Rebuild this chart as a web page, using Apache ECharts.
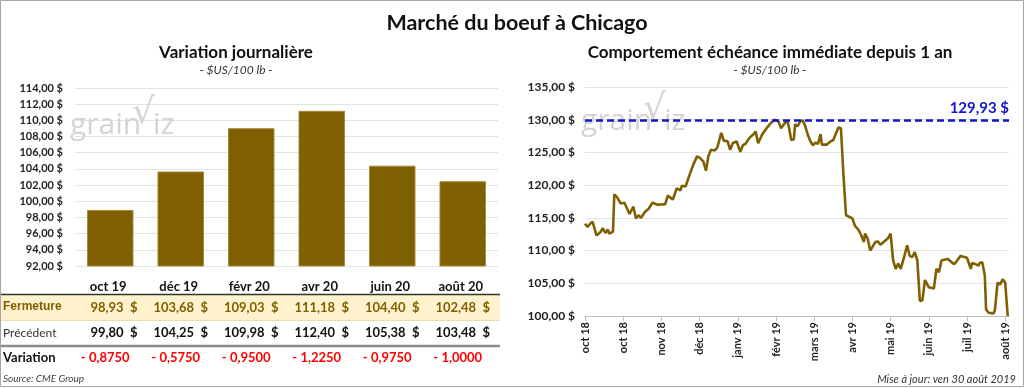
<!DOCTYPE html>
<html><head><meta charset="utf-8">
<script src="https://cdn.jsdelivr.net/npm/echarts@6/dist/echarts.min.js"></script>
<style>html,body{margin:0;padding:0;background:#fff}#c{width:1024px;height:388px}</style>
</head><body><div id="c"></div>
<script>
const barCategories = ['oct 19','déc 19','févr 20','avr 20','juin 20','août 20'];
const closeValues = [98.93,103.68,109.03,111.18,104.40,102.48];
const prevValues = [99.80,104.25,109.98,112.40,105.38,103.48];
const changeValues = [-0.8750,-0.5750,-0.9500,-1.2250,-0.9750,-1.0000];
const lineTickLabels = ['oct 18','oct 18','nov 18','déc 18','janv 19','févr 19','mars 19','avr 19','mai 19','juin 19','juil 19','août 19'];
// days since 1 Oct 2018
const lineDays = [0,2,4,6,9,12,14,16,18,19,22,23,25,28,31,35,38,40,42,44,47,50,53,57,63,65,69,72,75,76,79,82,85,88,90,93,95,97,99,102,104,107,109,112,114,116,119,122,124,126,128,130,132,134,136,139,143,146,149,152,154,157,159,160,162,164,165,167,169,171,173,175,177,179,181,183,185,186,187,190,193,195,196,199,201,202,203,205,208,210,212,215,217,219,220,222,224,225,228,230,232,235,238,240,242,244,246,248,251,253,255,257,259,261,263,265,267,270,274,276,278,280,282,285,288,290,292,295,298,300,303,304,307,309,310,312,314,315,317,321,322,324,326,328,330,331,332];
const linePrices = [114.1,113.6,114.1,114.4,112.3,112.8,113.4,112.7,113.2,112.6,112.9,118.6,118.2,117.2,117.3,115.6,116.7,114.9,115.4,115.0,115.9,116.4,117.3,117.0,117.1,118.4,117.8,119.5,119.2,119.9,119.8,121.5,123.1,124.4,124.2,123.6,122.2,124.5,125.4,125.3,125.8,128.0,126.8,126.7,125.4,126.4,126.7,125.1,126.1,126.3,126.9,127.4,127.7,128.2,126.4,127.7,128.8,129.5,130.0,129.7,128.7,129.5,129.8,129.0,126.9,127.0,129.3,129.0,129.75,129.9,129.0,127.7,126.7,126.1,126.5,126.3,127.8,126.2,126.3,126.2,126.7,126.9,126.7,128.8,128.7,128.6,121.5,115.4,115.1,114.9,113.8,113.1,112.3,111.3,112.6,111.8,110.0,109.8,111.3,111.4,110.9,111.4,111.9,112.6,108.5,107.2,108.0,107.2,109.3,110.8,109.2,109.0,109.75,108.5,102.3,102.4,105.5,104.4,104.2,107.2,106.7,108.5,108.6,108.7,108.2,107.9,108.4,109.2,109.0,108.9,107.2,108.1,107.9,107.7,108.1,108.2,106.2,101.0,100.5,100.4,101.0,105.1,104.8,105.6,105.1,104.8,100.0];
const yearHigh = 129.93;

const FONT = 'Lato, "Open Sans", sans-serif';
const BROWN = '#7f6000';
const fmt$ = v => v.toFixed(2).replace('.', ',') + ' $';
const fmtChg = v => (v < 0 ? '- ' : '+ ') + Math.abs(v).toFixed(4).replace('.', ',');

const chart = echarts.init(document.getElementById('c'), null, {renderer: 'canvas'});
const option = {
  backgroundColor: '#fff',
  animation: false,
  textStyle: {fontFamily: FONT},
  title: [
    {text: 'Marché du boeuf à Chicago', left: 512, top: 7, textAlign: 'center',
     textStyle: {fontSize: 21.5, fontWeight: 'bold', color: '#111', fontFamily: FONT}},
    {text: 'Variation journalière', subtext: '- $US/100 lb -', left: 231, top: 39, textAlign: 'center', itemGap: 3,
     textStyle: {fontSize: 17, fontWeight: 'bold', color: '#111', fontFamily: FONT},
     subtextStyle: {fontSize: 12, fontStyle: 'italic', color: '#333', fontFamily: FONT}},
    {text: 'Comportement échéance immédiate depuis 1 an', subtext: '- $US/100 lb -', left: 765, top: 39, textAlign: 'center', itemGap: 3,
     textStyle: {fontSize: 17, fontWeight: 'bold', color: '#111', fontFamily: FONT},
     subtextStyle: {fontSize: 12, fontStyle: 'italic', color: '#333', fontFamily: FONT}}
  ],
  grid: [
    {left: 75, width: 423, top: 88, height: 178},
    {left: 585, width: 424, top: 87, height: 229}
  ],
  xAxis: [
    {gridIndex: 0, type: 'category', data: barCategories, axisLine: {show: false}, axisTick: {show: false}, axisLabel: {show: false}},
    {gridIndex: 1, type: 'value', min: 0, max: 333, interval: 30,
     splitLine: {show: false},
     axisLine: {show: true, lineStyle: {color: '#bfbfbf'}},
     axisTick: {show: true, length: 5, lineStyle: {color: '#bfbfbf'}},
     axisLabel: {rotate: 90, fontSize: 11, fontWeight: 'bold', color: '#222', fontFamily: FONT, margin: 6,
       showMaxLabel: false,
       formatter: v => (v % 30 === 0 ? (lineTickLabels[v / 30] || '') : '')}}
  ],
  yAxis: [
    {gridIndex: 0, type: 'value', min: 92, max: 114, interval: 2,
     splitLine: {lineStyle: {color: '#e3e3e3', width: 1}},
     axisLine: {show: false}, axisTick: {show: false},
     axisLabel: {fontSize: 11, fontWeight: 'bold', color: '#222', fontFamily: FONT, margin: 12, formatter: v => fmt$(v)}},
    {gridIndex: 1, type: 'value', min: 100, max: 135, interval: 5,
     splitLine: {lineStyle: {color: '#e3e3e3', width: 1}},
     axisLine: {show: false}, axisTick: {show: false},
     axisLabel: {fontSize: 12, fontWeight: 'bold', color: '#222', fontFamily: FONT, margin: 10, formatter: v => fmt$(v)}}
  ],
  series: [
    {type: 'bar', xAxisIndex: 0, yAxisIndex: 0, data: closeValues, barWidth: '66%',
     itemStyle: {color: BROWN, borderColor: '#a88a3a', borderWidth: 1}},
    {type: 'line', xAxisIndex: 1, yAxisIndex: 1, data: lineDays.map((d, i) => [d, linePrices[i]]),
     showSymbol: false, lineStyle: {color: BROWN, width: 2.6}, z: 3,
     markLine: {silent: true, symbol: 'none',
       lineStyle: {color: '#1515c8', type: [7, 4], width: 2.5},
       label: {position: 'insideEndTop', formatter: () => fmt$(yearHigh), color: '#1515c8', fontSize: 15, fontWeight: 'bold', fontFamily: FONT, distance: [0, 5]},
       data: [{yAxis: yearHigh}]}}
  ]
};
chart.setOption(option);

// table + decorations positioned from the library's own category scale
const centers = barCategories.map(c => chart.convertToPixel({xAxisIndex: 0}, c));
const half = 423 / barCategories.length / 2;
const g = [];
g.push({type: 'rect', shape: {x: 0.5, y: 0.5, width: 1023, height: 386}, style: {fill: 'none', stroke: '#a6a6a6', lineWidth: 1}, z: 0});
// watermarks
[[70, 110], [581, 106]].forEach(([x, y]) => {
  g.push({type: 'text', x: x, y: y, style: {text: 'grain', font: '30px "Open Sans", sans-serif', fill: '#d4d4d4'}, z: 0});
  g.push({type: 'text', x: x + 62, y: y - 14, style: {text: '√', font: '36px "DejaVu Sans", sans-serif', fill: '#d4d4d4'}, z: 0});
  g.push({type: 'text', x: x + 83, y: y, style: {text: 'iz', font: '30px "Open Sans", sans-serif', fill: '#d4d4d4'}, z: 0});
});
// table rows
g.push({type: 'rect', shape: {x: 1, y: 295, width: 499, height: 25}, style: {fill: '#fff2cc'}, z: 1});
g.push({type: 'line', shape: {x1: 1, y1: 294.5, x2: 500, y2: 294.5}, style: {stroke: '#333', lineWidth: 1.5}, z: 2});
g.push({type: 'line', shape: {x1: 1, y1: 320.5, x2: 500, y2: 320.5}, style: {stroke: '#e8dcb0', lineWidth: 1}, z: 2});
g.push({type: 'line', shape: {x1: 1, y1: 346, x2: 500, y2: 346}, style: {stroke: '#8c8c8c', lineWidth: 2.5}, z: 2});
g.push({type: 'text', x: 3, y: 307, style: {text: 'Fermeture', font: '12px ' + FONT, fill: BROWN, fontWeight: 'bold', verticalAlign: 'middle'}, z: 3});
g.push({type: 'text', x: 3, y: 333, style: {text: 'Précédent', font: '12px ' + FONT, fill: '#333', verticalAlign: 'middle'}, z: 3});
g.push({type: 'text', x: 3, y: 358, style: {text: 'Variation', font: 'bold 13px ' + FONT, fill: '#111', verticalAlign: 'middle'}, z: 3});
g.push({type: 'text', x: 3, y: 379, style: {text: 'Source: CME Group', font: 'italic 10px ' + FONT, fill: '#444', verticalAlign: 'middle'}, z: 3});
g.push({type: 'text', x: 1016, y: 379, style: {text: 'Mise à jour: ven 30 août 2019', font: 'italic 11px ' + FONT, fill: '#333', align: 'right', verticalAlign: 'middle'}, z: 3});
barCategories.forEach((c, i) => {
  const cx = centers[i];
  const right = cx + half - 8;
  g.push({type: 'text', x: cx - 2, y: 287, style: {text: c, font: 'bold 13px ' + FONT, fill: '#111', align: 'center', verticalAlign: 'middle'}, z: 3});
  g.push({type: 'text', x: right, y: 308, style: {text: closeValues[i].toFixed(2).replace('.', ',') + '  $', font: 'bold 13px ' + FONT, fill: BROWN, align: 'right', verticalAlign: 'middle'}, z: 3});
  g.push({type: 'text', x: right, y: 333, style: {text: prevValues[i].toFixed(2).replace('.', ',') + '  $', font: 'bold 13px ' + FONT, fill: '#111', align: 'right', verticalAlign: 'middle'}, z: 3});
  g.push({type: 'text', x: cx - 5, y: 358, style: {text: fmtChg(changeValues[i]), font: 'bold 13px ' + FONT, fill: '#ff0000', align: 'center', verticalAlign: 'middle'}, z: 3});
});
chart.setOption({graphic: g});
</script></body></html>
